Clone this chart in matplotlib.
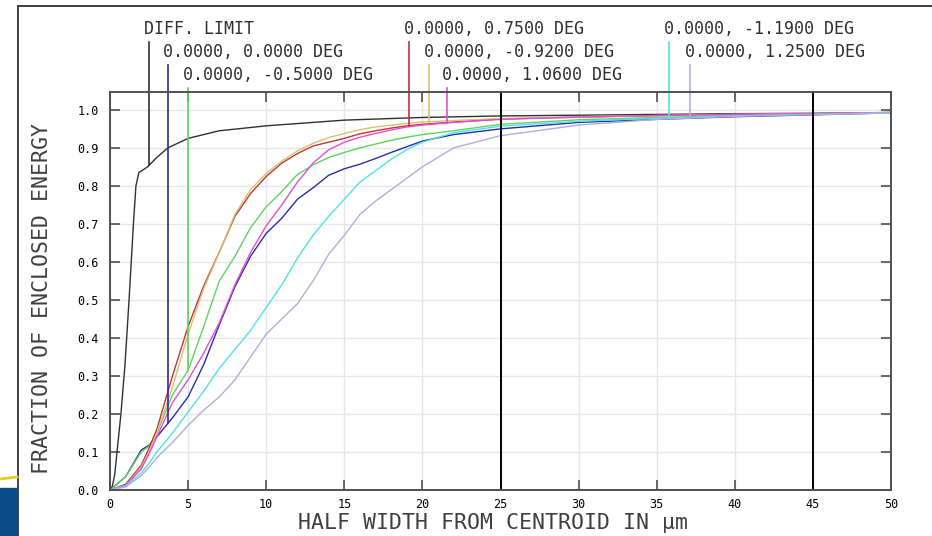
import numpy as np
import matplotlib
matplotlib.use('Agg')
import matplotlib.pyplot as plt
from matplotlib.lines import Line2D
from matplotlib.patches import Rectangle

# Datos (energia encerrada)
x_diff = [0, 0.15, 0.3, 0.45, 0.7, 0.96, 1.22, 1.5, 1.66, 1.85, 2.4, 3.0, 3.7,
          5, 7, 10, 15, 20, 25, 30, 35, 40, 45, 50]
y_diff = [0, 0.01, 0.04, 0.1, 0.2, 0.33, 0.5, 0.7, 0.8, 0.835, 0.85, 0.875, 0.9,
          0.925, 0.945, 0.958, 0.973, 0.98, 0.984, 0.986, 0.988, 0.99, 0.991, 0.993]

x_f = [0, 1, 2, 2.5, 3, 4, 5, 6, 7, 8, 9, 10, 11, 12, 13, 14, 15, 16, 17, 18, 19,
       20, 22, 25, 30, 35, 40, 45, 50]

y_000 = [0, 0.035, 0.105, 0.118, 0.14, 0.19, 0.245, 0.33, 0.435, 0.535, 0.615, 0.675,
         0.715, 0.765, 0.795, 0.828, 0.845, 0.857, 0.872, 0.888, 0.903, 0.918, 0.935,
         0.95, 0.967, 0.975, 0.982, 0.987, 0.992]
y_m050 = [0, 0.035, 0.1, 0.115, 0.15, 0.25, 0.315, 0.43, 0.55, 0.615, 0.69, 0.745,
          0.785, 0.83, 0.855, 0.875, 0.888, 0.9, 0.91, 0.92, 0.928, 0.935, 0.945,
          0.962, 0.974, 0.98, 0.985, 0.989, 0.993]
y_075 = [0, 0.015, 0.065, 0.11, 0.16, 0.3, 0.43, 0.537, 0.626, 0.72, 0.78, 0.825,
         0.86, 0.885, 0.905, 0.915, 0.925, 0.937, 0.945, 0.952, 0.958, 0.962, 0.968,
         0.976, 0.981, 0.985, 0.988, 0.99, 0.993]
y_m092 = [0, 0.012, 0.06, 0.1, 0.15, 0.27, 0.41, 0.53, 0.625, 0.725, 0.79, 0.833,
          0.865, 0.892, 0.912, 0.927, 0.938, 0.948, 0.955, 0.96, 0.964, 0.968, 0.972,
          0.977, 0.982, 0.985, 0.988, 0.99, 0.993]
y_106 = [0, 0.012, 0.055, 0.095, 0.14, 0.23, 0.29, 0.36, 0.44, 0.54, 0.625, 0.695,
         0.75, 0.81, 0.86, 0.895, 0.915, 0.928, 0.938, 0.947, 0.955, 0.96, 0.967,
         0.975, 0.981, 0.985, 0.988, 0.99, 0.993]
y_m119 = [0, 0.01, 0.045, 0.07, 0.1, 0.15, 0.205, 0.26, 0.32, 0.37, 0.42, 0.48,
          0.54, 0.61, 0.67, 0.72, 0.765, 0.81, 0.84, 0.87, 0.895, 0.915, 0.94,
          0.957, 0.97, 0.978, 0.984, 0.988, 0.992]
y_125 = [0, 0.008, 0.038, 0.06, 0.085, 0.125, 0.17, 0.21, 0.245, 0.29, 0.35, 0.41,
         0.45, 0.49, 0.55, 0.62, 0.67, 0.725, 0.76, 0.79, 0.82, 0.85, 0.9,
         0.932, 0.96, 0.975, 0.983, 0.988, 0.992]

series = [y_000, y_m050, y_075, y_m092, y_106, y_m119, y_125]
labels = ['DIFF. LIMIT', '0.0000, 0.0000 DEG', '0.0000, -0.5000 DEG',
          '0.0000, 0.7500 DEG', '0.0000, -0.9200 DEG', '0.0000, 1.0600 DEG',
          '0.0000, -1.1900 DEG', '0.0000, 1.2500 DEG']
colors = ['#303030', '#2b2ba8', '#5fd35f', '#c03535', '#d6c172', '#df4fd6',
          '#4fe3e3', '#aeaee0']
label_x = [2.5, 3.7, 5.0, 19.15, 20.4, 21.6, 35.8, 37.1]
label_row = [0, 1, 2, 0, 1, 2, 0, 1]

mono = 'DejaVu Sans Mono'

fig = plt.figure(figsize=(9.32, 5.36), dpi=100)
ax = fig.add_axes([110/932, 46/536, 781/932, 398/536])

ax.plot(x_diff, y_diff, color=colors[0], lw=1.0)
for ys, c in zip(series, colors[1:]):
    ax.plot(x_f, ys, color=c, lw=1.0)

ax.axvline(25, color='black', lw=1.4)
ax.axvline(45, color='black', lw=1.4)

ax.set_xlim(0, 50)
ax.set_ylim(0, 1.047)
ax.set_xticks(np.arange(0, 51, 5))
ax.set_yticks(np.arange(0, 1.01, 0.1))
ax.set_yticklabels([f'{v:.1f}' for v in np.arange(0, 1.01, 0.1)])
ax.grid(True, color='#e6e6e6', lw=1.0)
ax.set_axisbelow(True)
ax.tick_params(direction='in', top=True, right=True, length=7, width=1.2,
               color='#505050', labelsize=8.5, pad=6)
ax.tick_params(axis='y', pad=8)
for lab in ax.get_xticklabels() + ax.get_yticklabels():
    lab.set_family(mono)
for s in ax.spines.values():
    s.set_color('#505050')
    s.set_linewidth(1.4)

# etiquetas con lineas guia
row_top = [1.179, 1.118, 1.058]
all_x = [x_diff] + [x_f] * 7
all_y = [y_diff] + series
for i in range(8):
    yend = np.interp(label_x[i], all_x[i], all_y[i])
    ax.plot([label_x[i], label_x[i]], [yend, row_top[label_row[i]]],
            color=colors[i], lw=1.2, clip_on=False)
    ax.text(label_x[i] - 0.32, row_top[label_row[i]] + 0.01, labels[i],
            family=mono, fontsize=12, color='#303030', ha='left', va='bottom',
            clip_on=False)

fig.text(42/932, (536-299)/536, 'FRACTION OF ENCLOSED ENERGY', rotation=90,
         family=mono, fontsize=15.5, color='#404040', ha='center', va='center')
fig.text(493/932, (536-523)/536, 'HALF WIDTH FROM CENTROID IN µm',
         family=mono, fontsize=15.5, color='#404040', ha='center', va='center')

# marco exterior y restos de la captura
fig.add_artist(Line2D([18/932, 18/932], [0, 530/536], color='#404040', lw=1.4))
fig.add_artist(Line2D([18/932, 1], [530/536, 530/536], color='#404040', lw=1.4))
fig.add_artist(Rectangle((0, 0), 17/932, 48/536, transform=fig.transFigure,
                         color='#0b4d8a'))
fig.add_artist(Line2D([0, 17/932], [57/536, 59/536], color='#e0d020', lw=2))

plt.savefig('out.png', dpi=100)
